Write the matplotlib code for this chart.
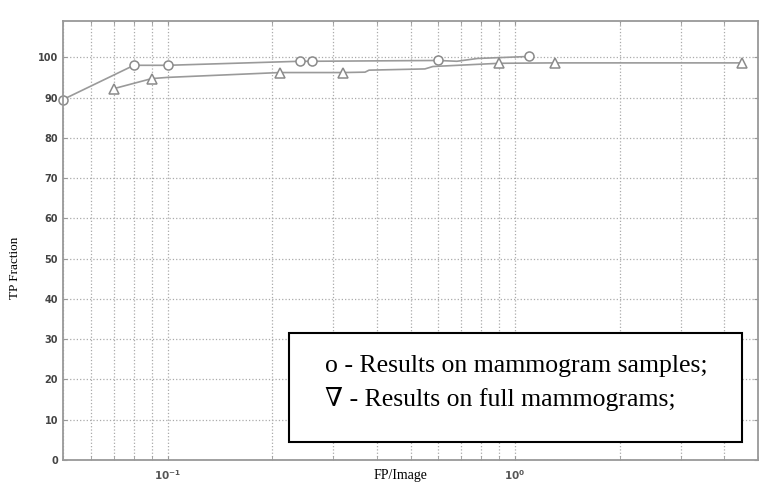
# TP fraction vs FP/image, two detection result curves
import matplotlib
matplotlib.use("Agg")
import matplotlib.pyplot as plt
from matplotlib.patches import Rectangle

# mammogram samples (circles) - line vertices, marker flags
samp_x = [0.05, 0.08, 0.10, 0.24, 0.26, 0.60, 0.68, 0.78, 1.10]
samp_y = [89.5, 98.0, 98.0, 99.0, 99.0, 99.2, 99.0, 99.7, 100.2]
samp_mark = [0, 1, 2, 3, 4, 5, 8]

# full mammograms (triangles)
full_x = [0.07, 0.09, 0.10, 0.21, 0.32, 0.37, 0.38, 0.55, 0.58, 0.90, 1.30, 4.50]
full_y = [92.2, 94.7, 95.0, 96.2, 96.2, 96.3, 96.8, 97.1, 97.7, 98.5, 98.6, 98.6]
full_mark = [0, 1, 3, 4, 9, 10, 11]

yticks = [0, 10, 20, 30, 40, 50, 60, 70, 80, 90, 100]
xticks = [0.1, 1.0]
xticklabels = [r"$\mathbf{10^{-1}}$", r"$\mathbf{10^{0}}$"]

legend_lines = ["o - Results on mammogram samples;",
                "\u2207 - Results on full mammograms;"]

fig = plt.figure(figsize=(7.59, 4.97), dpi=100)
ax = fig.add_axes([63/759, 37/497, 695/759, 439/497])

gray = "#8a8a8a"
ax.plot(samp_x, samp_y, "-", color="#9a9a9a", lw=1.2)
ax.plot([samp_x[i] for i in samp_mark], [samp_y[i] for i in samp_mark], "o",
        mfc="white", mec=gray, ms=6.5, mew=1.1, clip_on=False)
ax.plot(full_x, full_y, "-", color="#9a9a9a", lw=1.2)
ax.plot([full_x[i] for i in full_mark], [full_y[i] for i in full_mark], "^",
        mfc="white", mec=gray, ms=6.5, mew=1.1, clip_on=False)

ax.set_xscale("log")
ax.set_xlim(0.05, 5)
ax.set_ylim(0, 109)
ax.set_yticks(yticks)
ax.set_yticklabels([str(v) for v in yticks], fontsize=7, color="#444444",
                   fontweight="bold")
ax.set_xticks(xticks)
ax.set_xticklabels(xticklabels, fontsize=7.5, color="#555555")
ax.grid(True, which="both", ls=":", color="#aaaaaa", lw=0.9)
ax.tick_params(which="both", direction="in", top=True, right=True,
               color="#999999", length=3)
ax.tick_params(axis="x", which="both", pad=6)
ax.tick_params(axis="x", which="minor", labelbottom=False)
for s in ax.spines.values():
    s.set_color("#999999")
    s.set_linewidth(1.3)

fig.text(15/759, 1 - 268/497, "TP Fraction", rotation=90, ha="center",
         va="center", family="Liberation Serif", fontsize=9.5)
fig.text(400/759, 1 - 476/497, "FP/Image", ha="center", va="center",
         family="Liberation Serif", fontsize=10)

# legend box drawn as figure patch
fig.patches.append(Rectangle((289/759, 1 - 442/497), 453/759, 109/497,
                             transform=fig.transFigure, fill=True, fc="white",
                             ec="black", lw=1.5))
fig.text(325/759, 1 - 372/497, legend_lines[0], ha="left", va="baseline",
         family=["Liberation Serif", "DejaVu Serif"], fontsize=18.5)
fig.text(325/759, 1 - 406/497, legend_lines[1], ha="left", va="baseline",
         family=["Liberation Serif", "DejaVu Serif"], fontsize=18.5)

fig.savefig("out.png", dpi=100)
